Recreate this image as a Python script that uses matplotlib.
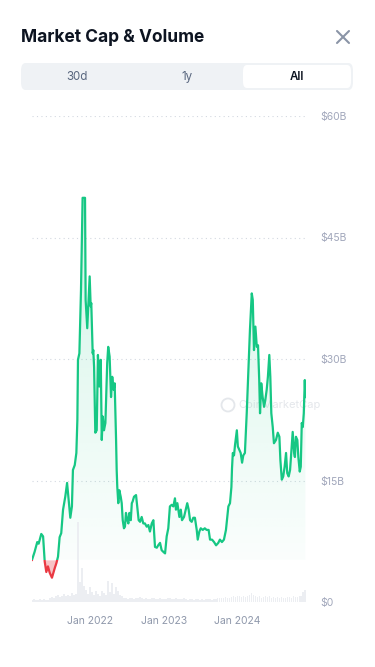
import numpy as np
import pandas as pd
import matplotlib
matplotlib.use("Agg")
import matplotlib.pyplot as plt
import matplotlib.dates as mdates
import matplotlib.transforms as mtransforms
from matplotlib.patches import FancyBboxPatch, Rectangle, Circle
from matplotlib.lines import Line2D

plt.rcParams['font.family'] = ['Inter', 'DejaVu Sans']

# market cap, $B
dates = pd.to_datetime([
    '2021-03-17', '2021-03-30', '2021-04-12', '2021-04-19', '2021-05-02', '2021-05-11',
    '2021-05-19', '2021-05-27', '2021-06-04', '2021-06-13', '2021-06-24', '2021-07-08',
    '2021-07-16', '2021-07-24', '2021-08-01', '2021-08-09', '2021-08-18', '2021-08-29',
    '2021-09-07', '2021-09-15', '2021-09-23', '2021-10-01', '2021-10-06', '2021-10-15',
    '2021-10-23', '2021-10-28', '2021-10-31', '2021-11-07', '2021-11-15', '2021-11-23',
    '2021-12-05', '2021-12-08', '2021-12-16', '2021-12-21', '2021-12-28', '2022-01-02',
    '2022-01-05', '2022-01-12', '2022-01-15', '2022-01-19', '2022-01-25', '2022-02-01',
    '2022-02-07', '2022-02-14', '2022-02-21', '2022-02-26', '2022-03-03', '2022-03-09',
    '2022-03-16', '2022-03-25', '2022-03-30', '2022-04-06', '2022-04-13', '2022-04-19',
    '2022-04-26', '2022-05-01', '2022-05-08', '2022-05-11', '2022-05-14', '2022-05-19',
    '2022-05-24', '2022-05-31', '2022-06-05', '2022-06-10', '2022-06-16', '2022-06-21',
    '2022-06-26', '2022-07-03', '2022-07-08', '2022-07-13', '2022-07-20', '2022-07-25',
    '2022-07-29', '2022-08-05', '2022-08-15', '2022-08-21', '2022-08-28', '2022-09-04',
    '2022-09-12', '2022-09-20', '2022-09-28', '2022-10-07', '2022-10-15', '2022-10-23',
    '2022-11-01', '2022-11-09', '2022-11-17', '2022-11-26', '2022-12-03', '2022-12-12',
    '2022-12-20', '2022-12-28', '2023-01-06', '2023-01-14', '2023-01-22', '2023-01-30',
    '2023-02-08', '2023-02-16', '2023-02-24', '2023-03-01', '2023-03-08', '2023-03-18',
    '2023-03-25', '2023-03-31', '2023-04-10', '2023-04-20', '2023-04-26', '2023-05-03',
    '2023-05-10', '2023-05-18', '2023-05-26', '2023-06-03', '2023-06-12', '2023-06-17',
    '2023-06-25', '2023-07-02', '2023-07-12', '2023-07-22', '2023-07-31', '2023-08-10',
    '2023-08-17', '2023-08-27', '2023-09-06', '2023-09-16', '2023-09-27', '2023-10-05',
    '2023-10-15', '2023-10-25', '2023-11-04', '2023-11-16', '2023-11-24', '2023-12-01',
    '2023-12-04', '2023-12-08', '2023-12-14', '2023-12-19', '2023-12-28', '2024-01-02',
    '2024-01-09', '2024-01-16', '2024-01-23', '2024-01-29', '2024-02-06', '2024-02-15',
    '2024-02-23', '2024-03-02', '2024-03-11', '2024-03-16', '2024-03-22', '2024-03-29',
    '2024-04-05', '2024-04-11', '2024-04-17', '2024-04-21', '2024-04-27', '2024-05-04',
    '2024-05-11', '2024-05-17', '2024-05-24', '2024-05-30', '2024-06-06', '2024-06-11',
    '2024-06-16', '2024-06-23', '2024-06-29', '2024-07-09', '2024-07-18', '2024-07-26',
    '2024-07-31', '2024-08-07', '2024-08-14', '2024-08-21', '2024-08-28', '2024-09-03',
    '2024-09-10', '2024-09-17', '2024-09-23', '2024-09-30', '2024-10-07', '2024-10-11',
    '2024-10-16', '2024-10-23', '2024-10-28', '2024-11-04', '2024-11-09', '2024-11-14',
    '2024-11-19', '2024-11-24', '2024-11-29', '2024-12-02',
])
market_cap = np.array([
    5.2, 6.2, 7.4, 7.2, 8.4, 8.1,
    5.0, 3.7, 4.4, 3.6, 3.0, 4.2,
    4.8, 5.6, 8.0, 8.5, 11.4, 13.0,
    14.7, 12.6, 10.4, 11.8, 16.3, 16.9,
    18.4, 22.5, 29.9, 30.7, 38.5, 49.9,
    49.9, 37.3, 33.8, 36.5, 40.2, 36.5,
    36.9, 30.7, 31.1, 29.0, 20.9, 21.2,
    30.5, 26.6, 29.9, 20.0, 22.9, 21.2,
    22.1, 29.5, 31.5, 30.3, 25.3, 27.8,
    26.2, 27.0, 20.0, 16.3, 14.2, 12.2,
    13.8, 13.0, 12.2, 10.1, 9.1, 9.3,
    11.0, 10.1, 9.7, 11.0, 10.1, 12.2,
    12.4, 13.0, 13.2, 11.8, 10.1, 9.9,
    10.5, 9.7, 9.7, 9.3, 9.5, 8.7,
    9.7, 10.1, 6.8, 6.7, 7.0, 7.3,
    6.4, 6.2, 6.0, 8.1, 9.1, 11.8,
    12.0, 11.8, 12.8, 11.4, 12.2, 10.5,
    11.4, 10.1, 10.5, 11.6, 12.2, 11.4,
    10.1, 9.9, 10.4, 10.4, 8.9, 7.7,
    8.7, 9.1, 8.9, 9.1, 8.9, 8.9,
    7.7, 7.7, 7.4, 7.0, 7.3, 7.7,
    7.4, 7.7, 8.9, 11.8, 12.2, 14.2,
    16.5, 18.4, 18.1, 19.4, 21.2, 19.2,
    18.8, 18.4, 17.2, 18.1, 18.4, 23.3,
    28.3, 33.6, 38.1, 37.3, 31.1, 34.0,
    31.5, 31.7, 27.4, 23.3, 27.0, 25.3,
    24.1, 24.9, 26.2, 27.8, 30.5, 27.8,
    23.3, 21.6, 19.6, 20.0, 20.9, 20.4,
    17.5, 15.1, 15.5, 16.7, 18.4, 15.9,
    15.5, 16.3, 18.4, 21.0, 18.4, 17.9,
    20.4, 20.0, 17.9, 16.1, 16.7, 22.1,
    21.6, 23.3, 27.4, 25.3,
])

# volume, $B
volume = np.array([
    0.30, 0.35, 0.25, 0.30, 0.40, 0.30, 0.35, 0.30, 0.30,
    0.50, 0.60, 0.45,
    0.70, 0.90, 0.60, 0.80, 1.00, 0.70, 0.90, 0.80, 1.10, 0.90,
    1.00, 9.90, 2.50, 4.20, 2.00, 1.50, 1.00, 1.80, 1.20, 0.90, 1.40, 1.00,
    0.80, 1.30, 1.10, 0.90, 2.60, 1.20, 2.40, 1.00, 1.80, 1.30, 0.90, 0.70,
    0.50, 0.45, 0.40, 0.55, 0.45, 0.40, 0.50, 0.45, 0.60, 0.50, 0.40, 0.45,
    0.35, 0.40, 0.50, 0.45, 0.40, 0.35, 0.45, 0.40, 0.35,
    0.40, 0.45, 0.50, 0.40, 0.35, 0.45, 0.40, 0.35, 0.40, 0.45, 0.35, 0.30,
    0.40, 0.35, 0.30, 0.35, 0.40, 0.30, 0.35, 0.30, 0.35, 0.40, 0.35, 0.30,
    0.35, 0.40, 0.45, 0.50, 0.45, 0.55, 0.60, 0.50, 0.55,
    0.60, 0.70, 0.65, 0.80, 0.70, 0.60, 0.75, 0.65, 0.80, 0.90,
    1.10, 0.90, 0.70,
    0.60, 0.70, 0.55, 0.65, 0.80, 0.60, 0.70, 0.55, 0.60, 0.50, 0.65, 0.55,
    0.60, 0.50, 0.55, 0.65, 0.60, 0.55, 0.70, 0.60, 0.65, 0.75,
    0.80, 1.20, 1.50,
])
vol_dates = pd.date_range(dates[0], dates[-1], periods=len(volume))

tick_dates = pd.to_datetime(['2022-01-01', '2023-01-01', '2024-01-01'])
tick_labels = ['Jan 2022', 'Jan 2023', 'Jan 2024']
y_ticks = [0, 15, 30, 45, 60]
y_labels = ['$0', '$15B', '$30B', '$45B', '$60B']
tabs = ['30d', '1y', 'All']

GREEN = '#16c784'
RED = '#ea3943'
W, H = 375, 667

fig = plt.figure(figsize=(W / 100, H / 100), dpi=100)
fig.patch.set_facecolor('white')


def fx(x):
    return x / W


def fy(y):
    return 1 - y / H


# header
fig.text(fx(21), fy(38), 'Market Cap & Volume', fontsize=12.5, fontweight='bold',
         color='#0d1421', va='center', ha='left')
for a, b in [((337, 31), (349, 43)), ((337, 43), (349, 31))]:
    fig.add_artist(Line2D([fx(a[0]), fx(b[0])], [fy(a[1]), fy(b[1])],
                          color='#8a94a6', lw=1.5, solid_capstyle='round'))

# tab bar
bar = FancyBboxPatch((fx(21), fy(90)), fx(332), 27 / H, boxstyle='round,pad=0,rounding_size=0.012',
                     transform=fig.transFigure, facecolor='#eff2f5', edgecolor='none')
fig.add_artist(bar)
sel = FancyBboxPatch((fx(243), fy(88)), fx(108), 23 / H, boxstyle='round,pad=0,rounding_size=0.01',
                     transform=fig.transFigure, facecolor='white', edgecolor='none')
fig.add_artist(sel)
for lab, xc in zip(tabs, [77, 187, 297]):
    active = lab == 'All'
    fig.text(fx(xc), fy(77), lab, fontsize=8.3, ha='center', va='center',
             color='#0d1421' if active else '#58667e',
             fontweight='semibold' if active else 'normal')

# watermark behind the chart
fig.add_artist(Circle((2.28, (H - 405) / 100), 0.065, transform=fig.dpi_scale_trans,
                      facecolor='none', edgecolor='#e4e7eb', lw=1.3, zorder=-2))
fig.text(fx(238), fy(405), 'CoinMarketCap', fontsize=8, color='#e4e7eb',
         ha='left', va='center', zorder=-2)

# chart
ax = fig.add_axes([fx(32), fy(602), fx(306 - 32), (602 - 116) / H])
ax.set_facecolor('none')
ax.set_zorder(1)
for s in ax.spines.values():
    s.set_visible(False)

base = market_cap[0]
xnum = mdates.date2num(dates)

# volume
ax.bar(vol_dates, volume, width=9, color='#eceef2', zorder=2, linewidth=0)

# green gradient fill above the first value
poly = ax.fill_between(dates, base, np.maximum(market_cap, base), facecolor='none',
                       edgecolor='none')
n = 256
grad = np.zeros((n, 1, 4))
grad[:, 0, 0] = 22 / 255
grad[:, 0, 1] = 199 / 255
grad[:, 0, 2] = 132 / 255
grad[:, 0, 3] = np.linspace(0.02, 0.19, n)
im = ax.imshow(grad, extent=[xnum[0], xnum[-1], base, market_cap.max()], origin='lower',
               aspect='auto', zorder=1, interpolation='bilinear')
im.set_clip_path(poly.get_paths()[0], transform=ax.transData)

# red fill below the first value
ax.fill_between(dates, market_cap, base, where=market_cap < base, interpolate=True,
                color=RED, alpha=0.3, linewidth=0, zorder=2)

blend = mtransforms.blended_transform_factory(ax.transAxes, ax.transData)
above = Rectangle((0, base), 1, 100, transform=blend)
below = Rectangle((0, base - 100), 1, 100, transform=blend)
lg, = ax.plot(dates, market_cap, color=GREEN, lw=1.6, zorder=3, solid_joinstyle='round')
lg.set_clip_path(above)
lr, = ax.plot(dates, market_cap, color=RED, lw=1.6, zorder=3, solid_joinstyle='round')
lr.set_clip_path(below)

ax.set_ylim(0, 60)
ax.set_xlim(xnum[0], xnum[-1] + 3)

ax.yaxis.tick_right()
ax.set_yticks(y_ticks)
ax.set_yticklabels(y_labels)
ax.tick_params(axis='y', length=0, pad=10, labelsize=7.5, labelcolor='#a1a7bb')
ax.set_xticks(tick_dates)
ax.set_xticklabels(tick_labels)
ax.tick_params(axis='x', length=0, pad=10, labelsize=7.5, labelcolor='#8f98ab')
for v in y_ticks[1:]:
    ax.axhline(v, color='#d3d8e0', lw=0.8, ls=(0, (1, 3)), zorder=0)

fig.savefig('out.png', dpi=100)
